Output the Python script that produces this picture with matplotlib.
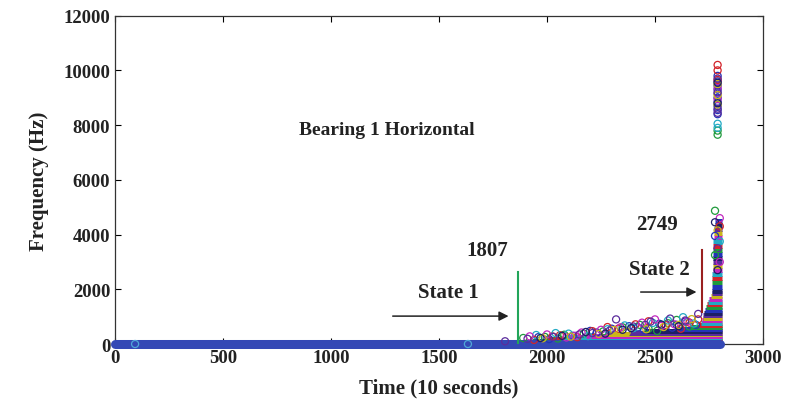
import matplotlib.pyplot as plt

# colour cycle seen in the picture
colors = ['#2333b8', '#1f9a3c', '#d2232a', '#22aac4', '#c227bf', '#c9b51a', '#5b2c9c', '#1c1f66']

# baseline of low-frequency points (time range)
base_x = [0, 2803]
base_y = [0, 0]
lone_x = [93, 1634]
lone_y = [0, 0]

# horizontal bands formed by the dense rows of circles
band_y = [60, 120, 180, 240, 300, 360, 420, 480, 550, 620, 700, 780, 860, 950, 1050, 1150,
          1250, 1350, 1450, 1550, 1650, 1750, 1850, 1950, 2100, 2250, 2400, 2550, 2700,
          2850, 3000, 3150, 3300, 3450, 3600, 3750, 3900, 4050, 4200, 4350, 4500]
band_x0 = [1890, 1930, 2000, 2080, 2180, 2280, 2380, 2450, 2600, 2660, 2700, 2712, 2718, 2722, 2724, 2726,
           2730, 2735, 2740, 2745, 2752, 2758, 2762, 2764, 2765, 2765, 2766, 2766, 2767,
           2767, 2768, 2768, 2769, 2769, 2770, 2770, 2771, 2772, 2774, 2776, 2778]
band_x1 = 2812

# scattered circles, one list pair per colour
pts_x = [
    [2010, 2120, 2230, 2300, 2380, 2450, 2520, 2580, 2640, 2690, 1960, 2200, 2420, 2600],
    [1890, 1990, 2080, 2170, 2260, 2350, 2430, 2510, 2600, 2660, 2050, 2470, 2560],
    [1940, 2060, 2140, 2210, 2330, 2410, 2470, 2550, 2620, 2700, 2025, 2280, 2660],
    [1950, 2040, 2190, 2280, 2360, 2490, 2560, 2630, 2680, 2100, 2400],
    [1920, 2000, 2090, 2160, 2250, 2340, 2440, 2500, 2590, 2650, 2130, 2530],
    [1980, 2110, 2240, 2370, 2460, 2540, 2610, 2670, 2310],
    [1806, 1910, 2030, 2150, 2290, 2320, 2400, 2480, 2570, 2640, 2700, 2210, 2455],
    [2070, 2180, 2270, 2390, 2530, 2610, 1970, 2350],
]
pts_y = [
    [180, 300, 420, 560, 650, 520, 740, 600, 820, 700, 250, 480, 610, 700],
    [220, 260, 340, 380, 460, 610, 700, 480, 880, 640, 200, 560, 760],
    [150, 320, 250, 470, 560, 720, 830, 690, 560, 900, 280, 620, 780],
    [330, 400, 290, 540, 680, 770, 860, 980, 750, 380, 580],
    [280, 350, 240, 420, 520, 610, 780, 900, 720, 830, 300, 660],
    [210, 270, 370, 450, 540, 620, 700, 910, 510],
    [100, 190, 260, 350, 490, 900, 640, 820, 930, 860, 1100, 400, 700],
    [300, 440, 380, 580, 710, 650, 220, 520],
]

# last-step column of circles and high-frequency cluster at the end of life
col_x = [2778, 2800, 2778, 2800, 2790, 2778, 2800, 2790, 2778, 2800, 2790]
col_y = [4870, 4600, 4450, 4300, 4150, 3950, 3750, 3500, 3250, 3000, 2700]
upper_x = 2790
upper_y = [
    [9800, 9600, 9450, 9300, 9150, 9000, 8850, 8700, 8550, 8400],
    [7800, 7650],
    [10200, 10000, 9650],
    [8050, 7900],
    [9350, 8950],
    [9500, 9100, 8750],
    [9700, 9200, 8600, 8450],
    [9550, 8800],
]

state1_x, state1_top = 1867, 2630
state2_x, state2_lo, state2_top = 2718, 1170, 3435

font = 'Liberation Serif'

fig = plt.figure(figsize=(7.86, 4.06), dpi=100)
ax = fig.add_axes([0.1463, 0.1502, 0.8244, 0.8087])

ax.plot(base_x, base_y, color='#3448b5', lw=6.5, solid_capstyle='round', clip_on=False, zorder=3)
for i, y in enumerate(band_y):
    ax.hlines(y, band_x0[i], band_x1, color=colors[i % len(colors)], lw=3.6, zorder=2)
for i in range(len(pts_x)):
    ax.scatter(pts_x[i], pts_y[i], s=26, facecolors='none', edgecolors=colors[i],
               linewidths=0.9, zorder=4, clip_on=False)
    ax.scatter([upper_x] * len(upper_y[i]), upper_y[i], s=26, facecolors='none',
               edgecolors=colors[i], linewidths=0.9, zorder=4)
ax.scatter(col_x, col_y, s=26, facecolors='none',
           edgecolors=[colors[(i * 3 + 1) % len(colors)] for i in range(len(col_x))],
           linewidths=0.9, zorder=4)
ax.scatter(lone_x, lone_y, s=26, facecolors='none', edgecolors='#4fa8d8', linewidths=0.9,
           zorder=5, clip_on=False)

ax.plot([state1_x, state1_x], [0, state1_top], color='#22a55a', lw=1.5, zorder=5)
ax.plot([state2_x, state2_x], [state2_lo, state2_top], color='#9a2020', lw=1.5, zorder=5)

tkw = dict(fontfamily=font, fontweight='bold', color='#222222')
ax.text(1259, 7858, 'Bearing 1 Horizontal', ha='center', va='center', fontsize=14, **tkw)
ax.text(1722, 3435, '1807', ha='center', va='center', fontsize=15, **tkw)
ax.text(1543, 1900, 'State 1', ha='center', va='center', fontsize=15, **tkw)
ax.text(2519, 2740, 'State 2', ha='center', va='center', fontsize=15, **tkw)
ax.text(2509, 4386, '2749', ha='center', va='center', fontsize=15, **tkw)
arrow = dict(arrowstyle='-|>', color='#222222', lw=1.1, mutation_scale=14)
ax.annotate('', xy=(1835, 1020), xytext=(1273, 1020), arrowprops=arrow)
ax.annotate('', xy=(2705, 1900), xytext=(2421, 1900), arrowprops=arrow)

ax.set_xlim(0, 3000)
ax.set_ylim(0, 12000)
ax.set_xticks([0, 500, 1000, 1500, 2000, 2500, 3000])
ax.set_yticks([0, 2000, 4000, 6000, 8000, 10000, 12000])
ax.tick_params(direction='in', length=4, width=0.8, top=True, right=True, labelsize=13.5)
for lab in ax.get_xticklabels() + ax.get_yticklabels():
    lab.set_fontfamily(font)
    lab.set_fontweight('bold')
    lab.set_color('#222222')
for sp in ax.spines.values():
    sp.set_color('#333333')
    sp.set_linewidth(0.9)
ax.set_xlabel('Time (10 seconds)', fontsize=15, labelpad=8, **tkw)
ax.set_ylabel('Frequency (Hz)', fontsize=15, labelpad=10, **tkw)

fig.savefig('out.png', dpi=100)
